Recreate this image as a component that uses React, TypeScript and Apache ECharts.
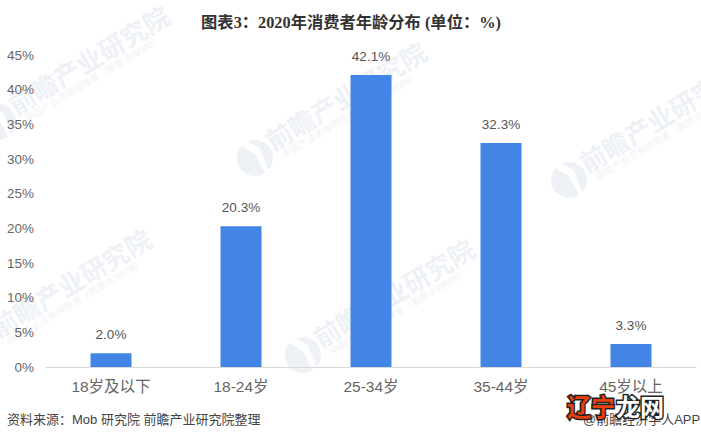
import React, { useEffect, useRef } from "react";
import * as echarts from "echarts";

const categories = ["18岁及以下", "18-24岁", "25-34岁", "35-44岁", "45岁以上"];
const shares = [2.0, 20.3, 42.1, 32.3, 3.3];
const titleText = "图表3：2020年消费者年龄分布 (单位：%)";
const sourceText = "资料来源：Mob 研究院 前瞻产业研究院整理";
const creditText = "@前瞻经济学人APP";
const badgeText = "辽宁龙网";
const watermarkMain = "前瞻产业研究院";
const watermarkSub = "中国产业咨询领导者（股票:839599）";
const watermarkSpots = [
  [-2, 122],
  [255, 158],
  [303, 355],
  [569, 180],
  [-20, 345],
];

const cjk = '"Liberation Sans","Noto Sans CJK SC",sans-serif';

export default function App() {
  const ref = useRef<HTMLDivElement>(null);
  useEffect(() => {
    const chart = echarts.init(ref.current!, null, { renderer: "svg" });
    const marks: any[] = [];
    watermarkSpots.forEach(([x, y]) => {
      marks.push({
        type: "group",
        x,
        y,
        rotation: (31 * Math.PI) / 180,
        silent: true,
        z: 0,
        children: [
          { type: "circle", shape: { cx: 0, cy: 0, r: 18 }, style: { fill: "#eef1f6" } },
          {
            type: "polygon",
            shape: { points: [[-6, -19], [2, -19], [9, -6], [5, 19], [1, 19], [2, -3]] },
            style: { fill: "#ffffff" },
          },
          {
            type: "text",
            x: 19,
            y: -5,
            style: {
              text: watermarkMain,
              font: `bold 26px ${cjk}`,
              fill: "#eef1f6",
              verticalAlign: "middle",
            },
          },
          {
            type: "text",
            x: 25,
            y: 12,
            style: {
              text: watermarkSub,
              font: `9.5px ${cjk}`,
              fill: "#f0f2f6",
              verticalAlign: "middle",
            },
          },
        ],
      });
    });
    marks.push(
      {
        type: "text",
        x: 7,
        y: 413,
        style: { text: sourceText, font: `13px ${cjk}`, fill: "#444444" },
      },
      {
        type: "text",
        x: 583,
        y: 413,
        style: { text: creditText, font: `13px ${cjk}`, fill: "#444444" },
      },
      {
        type: "text",
        x: 567,
        y: 395,
        z: 10,
        style: {
          text: badgeText.slice(0, 2),
          font: `bold 24px ${cjk}`,
          fill: "#e8400c",
          stroke: "#222222",
          lineWidth: 3,
        },
      },
      {
        type: "text",
        x: 616,
        y: 395,
        z: 10,
        style: {
          text: badgeText.slice(2),
          font: `bold 24px ${cjk}`,
          fill: "#ffffff",
          stroke: "#222222",
          lineWidth: 3,
        },
      }
    );
    chart.setOption({
      animation: false,
      backgroundColor: "#ffffff",
      title: {
        text: titleText,
        left: 346,
        top: 9,
        textAlign: "center",
        textStyle: {
          fontFamily: '"Liberation Serif","Noto Sans CJK SC",serif',
          fontSize: 16.3,
          fontWeight: "bold",
          color: "#333333",
        },
      },
      grid: { left: 46, right: 5, top: 55, bottom: 73, containLabel: false },
      xAxis: {
        type: "category",
        data: categories,
        axisTick: { show: false },
        axisLine: { lineStyle: { color: "#d9d9d9", width: 1 } },
        axisLabel: { color: "#666666", fontSize: 15.5, margin: 12, fontFamily: cjk },
      },
      yAxis: {
        type: "value",
        min: 0,
        max: 45,
        interval: 5,
        splitLine: { show: false },
        axisLine: { show: false },
        axisTick: { show: false },
        axisLabel: {
          color: "#666666",
          fontSize: 13.5,
          margin: 12,
          fontFamily: cjk,
          formatter: (v: number) => `${v}%`,
        },
      },
      series: [
        {
          type: "bar",
          data: shares,
          barWidth: 41,
          z: 3,
          itemStyle: { color: "#4285e4" },
          label: {
            show: true,
            position: "top",
            distance: 12,
            color: "#555555",
            fontSize: 13.5,
            fontFamily: cjk,
            formatter: (p: any) => `${p.value.toFixed(1)}%`,
          },
        },
      ],
      graphic: { elements: marks },
    });
    return () => chart.dispose();
  }, []);
  return (
    <div
      ref={ref}
      style={{ position: "fixed", left: 0, top: 0, width: 701, height: 440 }}
    />
  );
}
